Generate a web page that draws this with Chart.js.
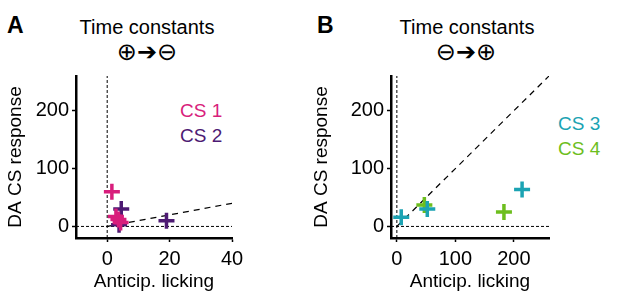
<!DOCTYPE html>
<html>
<head>
<meta charset="utf-8">
<script src="https://cdn.jsdelivr.net/npm/chart.js@4/dist/chart.umd.min.js"></script>
<style>
  html, body { margin: 0; padding: 0; background: #fff; }
  body { width: 617px; height: 299px; position: relative; overflow: hidden; font-family: "Liberation Sans", Arial, sans-serif; }
  canvas { position: absolute; top: 0; }
  .t { position: absolute; white-space: nowrap; color: #000; }
  .lab { position: absolute; font-size: 23px; font-weight: bold; line-height: 23px; }
  .title { font-size: 20px; line-height: 20px; transform: translateX(-50%); }
  .sym { font-family: "DejaVu Sans", sans-serif; font-size: 24px; line-height: 24px; transform: translateX(-50%); }
  .leg { font-size: 19px; line-height: 19px; }
</style>
</head>
<body>
<div class="t lab" style="left:7px; top:14px;">A</div>
<div class="t lab" style="left:317px; top:14px;">B</div>
<div class="t title" style="left:147px; top:17px;">Time constants</div>
<div class="t title" style="left:467px; top:17px;">Time constants</div>
<div class="t sym" style="left:147px; top:40px;">⊕➔⊖</div>
<div class="t sym" style="left:466px; top:40px;">⊖➔⊕</div>
<div id="legA"></div>
<div id="legB"></div>
<canvas id="cA" width="308" height="299" style="left:0px;"></canvas>
<canvas id="cB" width="307" height="299" style="left:310px;"></canvas>
<script>
// ---- data ----
const seriesNames = ["CS 1", "CS 2", "CS 3", "CS 4"];
const seriesColors = ["#d81e7c", "#4d1a73", "#1ba3b3", "#6dbe1e"];

const cs1Lick = [1.5, 2.8, 3.6, 4.3];
const cs1DA   = [60, 17, 12, 7];
const cs2Lick = [4.5, 3.8, 19];
const cs2DA   = [30, 3, 10];

const cs3Lick = [7.5, 52, 214];
const cs3DA   = [16, 30, 64];
const cs4Lick = [47, 183];
const cs4DA   = [37, 25];

const yTicks  = [0, 100, 200];
const xTicksA = [0, 20, 40];
const xTicksB = [0, 100, 200];
const yRange  = [-20, 260];
const xRangeA = [-10, 40];
const xRangeB = [-10, 260];
const unityA  = [0, 40];   // identity line y = x
const unityB  = [0, 260];

const toPts = (xs, ys) => xs.map((x, i) => ({x: x, y: ys[i]}));

function makeChart(id, sets, xr, xt, unity, yw, padR) {
  const datasets = [];
  sets.forEach(s => datasets.push({
    label: s.name,
    data: toPts(s.x, s.y),
    pointStyle: 'cross',
    pointRadius: 8,
    pointHoverRadius: 8,
    borderWidth: 3.5,
    pointBorderWidth: 3.5,
    borderColor: s.color,
    backgroundColor: s.color,
    showLine: false
  }));
  const dash = (pts, d, w) => ({
    data: pts, showLine: true, pointRadius: 0, borderColor: '#000',
    borderWidth: w, borderDash: d, fill: false
  });
  datasets.push(dash(toPts(unity, unity), [6, 5], 1.2));
  datasets.push(dash(toPts([0, 0], yRange), [3, 2], 1));
  datasets.push(dash(toPts(xr, [0, 0]), [3, 2], 1));

  return new Chart(document.getElementById(id), {
    type: 'scatter',
    data: { datasets },
    options: {
      responsive: false,
      animation: false,
      events: [],
      layout: { padding: { top: 76, right: padR, left: 0, bottom: 0 } },
      plugins: { legend: { display: false }, tooltip: { enabled: false } },
      scales: {
        x: {
          type: 'linear', min: xr[0], max: xr[1],
          afterBuildTicks: sc => { sc.ticks = xt.map(v => ({value: v})); },
          afterFit: sc => { sc.height = 61; },
          grid: { display: true, drawOnChartArea: false, drawTicks: true, tickLength: 4, color: '#000', tickWidth: 1.5 },
          border: { display: true, color: '#000', width: 2.5 },
          ticks: { color: '#000', font: { family: 'Liberation Sans', size: 20 }, padding: 5, maxRotation: 0 },
          title: { display: true, text: 'Anticip. licking', color: '#000',
                   font: { family: 'Liberation Sans', size: 19 }, padding: { top: 0, bottom: 6 } }
        },
        y: {
          type: 'linear', min: yRange[0], max: yRange[1],
          afterBuildTicks: sc => { sc.ticks = yTicks.map(v => ({value: v})); },
          afterFit: sc => { sc.width = yw; },
          grid: { display: true, drawOnChartArea: false, drawTicks: true, tickLength: 4, color: '#000', tickWidth: 1.5 },
          border: { display: true, color: '#000', width: 2.5 },
          ticks: { color: '#000', font: { family: 'Liberation Sans', size: 20 }, padding: 3 },
          title: { display: true, text: 'DA CS response', color: '#000',
                   font: { family: 'Liberation Sans', size: 19 }, padding: { top: yw > 78 ? 0 : 4, bottom: 0 } }
        }
      }
    }
  });
}

makeChart('cA', [
  { name: seriesNames[0], color: seriesColors[0], x: cs1Lick, y: cs1DA },
  { name: seriesNames[1], color: seriesColors[1], x: cs2Lick, y: cs2DA }
], xRangeA, xTicksA, unityA, 76, 76);

makeChart('cB', [
  { name: seriesNames[2], color: seriesColors[2], x: cs3Lick, y: cs3DA },
  { name: seriesNames[3], color: seriesColors[3], x: cs4Lick, y: cs4DA }
], xRangeB, xTicksB, unityB, 81, 68);

// legend text labels
function legend(el, idx, left, tops) {
  const c = document.getElementById(el);
  idx.forEach((k, i) => {
    const d = document.createElement('div');
    d.className = 't leg';
    d.style.left = left + 'px';
    d.style.top = tops[i] + 'px';
    d.style.color = seriesColors[k];
    d.textContent = seriesNames[k];
    c.appendChild(d);
  });
}
legend('legA', [0, 1], 180, [101, 126]);
legend('legB', [2, 3], 558, [114, 139]);
</script>
</body>
</html>
